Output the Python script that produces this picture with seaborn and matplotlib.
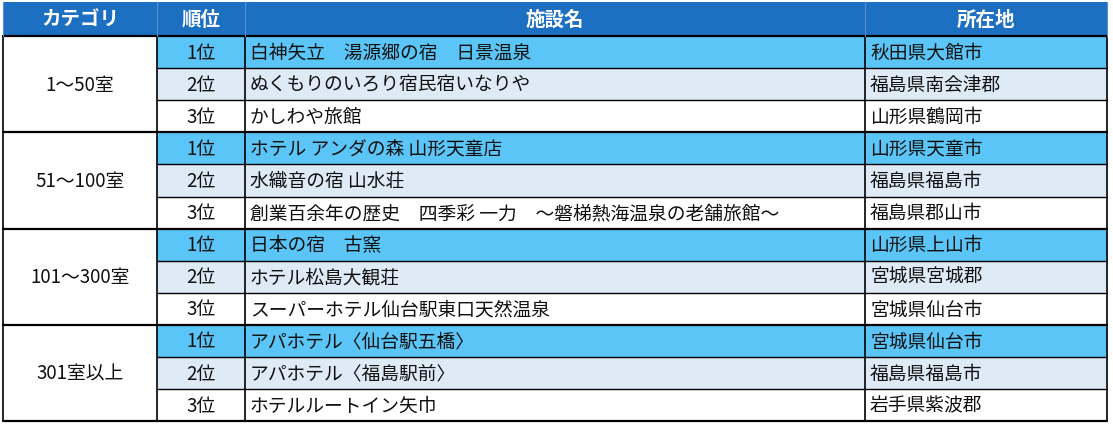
import matplotlib
matplotlib.use("Agg")
import matplotlib.pyplot as plt
from matplotlib.patches import Rectangle
import seaborn as sns

sns.set_theme(style="white")
plt.rcParams["font.family"] = ["Noto Sans CJK JP", "DejaVu Sans"]

headers = ["カテゴリ", "順位", "施設名", "所在地"]
categories = ["1～50室", "51～100室", "101～300室", "301室以上"]
ranks = ["1位", "2位", "3位"]
facilities = [
    "白神矢立　湯源郷の宿　日景温泉", "ぬくもりのいろり宿民宿いなりや", "かしわや旅館",
    "ホテル アンダの森 山形天童店", "水織音の宿 山水荘", "創業百余年の歴史　四季彩 一力　～磐梯熱海温泉の老舗旅館～",
    "日本の宿　古窯", "ホテル松島大観荘", "スーパーホテル仙台駅東口天然温泉",
    "アパホテル〈仙台駅五橋〉", "アパホテル〈福島駅前〉", "ホテルルートイン矢巾",
]
locations = [
    "秋田県大館市", "福島県南会津郡", "山形県鶴岡市",
    "山形県天童市", "福島県福島市", "福島県郡山市",
    "山形県上山市", "宮城県宮城郡", "宮城県仙台市",
    "宮城県仙台市", "福島県福島市", "岩手県紫波郡",
]

col_edges = [3, 157, 245, 865, 1107]
top, head_h, row_h = 3, 34, 32.1
row_colors = ["#5ac5f6", "#dfeaf7", "#ffffff"]
fs = 13.5

fig = plt.figure(figsize=(11.13, 4.27), dpi=100)
ax = fig.add_axes([0, 0, 1, 1])
ax.set_xlim(0, 1113)
ax.set_ylim(427, 0)
ax.axis("off")

# header
ax.add_patch(Rectangle((col_edges[0], top), col_edges[-1] - col_edges[0], head_h,
                       facecolor="#1d6fc2", edgecolor="none"))
for i, h in enumerate(headers):
    ax.text((col_edges[i] + col_edges[i + 1]) / 2, top + head_h / 2, h, color="white",
            fontsize=14, fontweight="bold", ha="center", va="center")

y0 = top + head_h
for i in range(len(facilities)):
    y = y0 + i * row_h
    r = i % 3
    ax.add_patch(Rectangle((col_edges[1], y), col_edges[-1] - col_edges[1], row_h,
                           facecolor=row_colors[r], edgecolor="none"))
    ax.text((col_edges[1] + col_edges[2]) / 2, y + row_h / 2, ranks[r],
            fontsize=fs, ha="center", va="center", color="#111111")
    ax.text(col_edges[2] + 5, y + row_h / 2, facilities[i],
            fontsize=fs, ha="left", va="center", color="#111111")
    ax.text(col_edges[3] + 5, y + row_h / 2, locations[i],
            fontsize=fs, ha="left", va="center", color="#111111")
    if r > 0:
        ax.plot([col_edges[1], col_edges[-1]], [y, y], color="black", lw=1)

for g, c in enumerate(categories):
    yg = y0 + g * 3 * row_h
    ax.text((col_edges[0] + col_edges[1]) / 2, yg + 1.5 * row_h, c,
            fontsize=fs, ha="center", va="center", color="#111111")
    ax.plot([col_edges[0], col_edges[-1]], [yg, yg], color="black", lw=1.6)

bottom = y0 + len(facilities) * row_h
ax.plot([col_edges[0], col_edges[-1]], [bottom, bottom], color="black", lw=1.6)
for x in col_edges:
    ax.plot([x, x], [y0, bottom], color="black", lw=1.2)
    ax.plot([x, x], [top, y0], color="#5a8fd0", lw=0.8)

fig.savefig("out.png", dpi=100)
